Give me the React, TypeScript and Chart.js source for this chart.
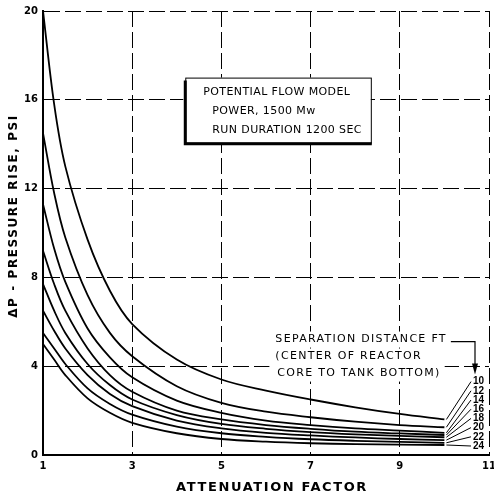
import React, { useEffect, useRef } from "react";
import { Chart, registerables } from "chart.js";
Chart.register(...registerables);

// Attenuation factor sample positions (x)
const attenuation = [1, 1.25, 1.5, 2, 2.5, 3, 4, 5, 6, 7, 8, 9, 10];
// Pressure rise (psi) for each separation distance (ft)
const sep10 = [20, 15.8, 13.0, 9.7, 7.4, 5.9, 4.3, 3.4, 2.9, 2.5, 2.15, 1.85, 1.6];
const sep12 = [14.5, 11.8, 9.8, 7.2, 5.5, 4.45, 3.1, 2.35, 1.95, 1.7, 1.5, 1.35, 1.25];
const sep14 = [11.3, 9.3, 7.8, 5.7, 4.4, 3.5, 2.45, 1.9, 1.55, 1.35, 1.2, 1.1, 1.0];
const sep16 = [9.2, 7.7, 6.5, 4.8, 3.6, 2.85, 2.0, 1.6, 1.35, 1.18, 1.05, 0.97, 0.9];
const sep18 = [7.7, 6.5, 5.5, 4.1, 3.15, 2.5, 1.8, 1.4, 1.18, 1.03, 0.93, 0.86, 0.8];
const sep20 = [6.5, 5.6, 4.8, 3.6, 2.75, 2.2, 1.55, 1.2, 1.0, 0.88, 0.79, 0.72, 0.67];
const sep22 = [5.5, 4.8, 4.1, 3.0, 2.3, 1.82, 1.28, 0.98, 0.82, 0.71, 0.64, 0.59, 0.55];
const sep24 = [5.0, 4.3, 3.6, 2.55, 1.9, 1.45, 0.98, 0.72, 0.6, 0.53, 0.49, 0.47, 0.45];

const seriesValues = [sep10, sep12, sep14, sep16, sep18, sep20, sep22, sep24];
const separationLabels = ["10", "12", "14", "16", "18", "20", "22", "24"];

const xTicks = [1, 3, 5, 7, 9, 11];
const yTicks = [0, 4, 8, 12, 16, 20];

const boxLines = ["POTENTIAL FLOW MODEL", "POWER, 1500 Mw", "RUN DURATION 1200 SEC"];
const noteLines = ["SEPARATION DISTANCE FT", "(CENTER OF REACTOR", "CORE TO TANK BOTTOM)"];
const xTitle = "ATTENUATION FACTOR";
const yTitle = "\u0394P - PRESSURE RISE, PSI";

const FONT = "'DejaVu Sans', 'Liberation Sans', sans-serif";

const decorPlugin = {
  id: "decor",
  beforeDatasetsDraw(chart: any) {
    const ctx = chart.ctx as CanvasRenderingContext2D;
    const xs = chart.scales.x;
    const ys = chart.scales.y;
    ctx.save();
    // Info box
    const bx = xs.getPixelForValue(4.19);
    const by = ys.getPixelForValue(17.0);
    const bw = xs.getPixelForValue(8.35) - bx;
    const bh = ys.getPixelForValue(14.07) - by;
    ctx.fillStyle = "#fff";
    ctx.fillRect(bx - 2, by, bw + 2, bh + 2);
    ctx.strokeStyle = "#000";
    ctx.lineWidth = 1;
    ctx.strokeRect(bx + 0.5, by + 0.5, bw, bh);
    ctx.lineWidth = 3;
    ctx.beginPath();
    ctx.moveTo(bx, by + 3);
    ctx.lineTo(bx, by + bh + 1);
    ctx.lineTo(bx + bw + 1, by + bh + 1);
    ctx.stroke();
    ctx.fillStyle = "#000";
    ctx.font = `11px ${FONT}`;
    (ctx as any).letterSpacing = "0.4px";
    ctx.textBaseline = "middle";
    ctx.textAlign = "left";
    ctx.fillText(boxLines[0], bx + 18, by + 15);
    ctx.fillText(boxLines[1], bx + 27, by + 34);
    ctx.fillText(boxLines[2], bx + 27, by + 53);

    // Note text with white backing
    (ctx as any).letterSpacing = "1.3px";
    const nx = xs.getPixelForValue(6.21);
    const ny = ys.getPixelForValue(5.2);
    const rows = [0, 17, 34];
    noteLines.forEach((t, i) => {
      const w = ctx.measureText(t).width;
      ctx.fillStyle = "#fff";
      ctx.fillRect(nx - 6, ny + rows[i] - 8, w + 12, 16);
    });
    ctx.fillStyle = "#000";
    noteLines.forEach((t, i) => {
      ctx.fillText(t, nx + (i === 2 ? 2 : 0), ny + rows[i]);
    });
    const w0 = ctx.measureText(noteLines[0]).width;
    // arrow
    const ax = chart.chartArea.right - 14;
    ctx.lineWidth = 1.2;
    ctx.beginPath();
    ctx.moveTo(nx + w0 + 4, ny + 2);
    ctx.lineTo(ax, ny + 2);
    ctx.lineTo(ax, ny + 26);
    ctx.stroke();
    ctx.beginPath();
    ctx.moveTo(ax - 3, ny + 24);
    ctx.lineTo(ax + 3, ny + 24);
    ctx.lineTo(ax, ny + 35);
    ctx.closePath();
    ctx.fill();
    ctx.restore();
  },
  afterDraw(chart: any) {
    const ctx = chart.ctx as CanvasRenderingContext2D;
    const xs = chart.scales.x;
    const ys = chart.scales.y;
    const area = chart.chartArea;
    ctx.save();
    ctx.fillStyle = "#000";
    ctx.strokeStyle = "#000";
    // series labels with leader lines
    ctx.font = `bold 10px 'Liberation Sans', ${FONT}`;
    ctx.textBaseline = "middle";
    ctx.textAlign = "left";
    const n = seriesValues.length;
    seriesValues.forEach((vals, i) => {
      const px = xs.getPixelForValue(attenuation[attenuation.length - 1]);
      const py = ys.getPixelForValue(vals[vals.length - 1]);
      const ly = area.bottom - 9 - (n - 1 - i) * 9.2;
      const lx = area.right - 16;
      ctx.lineWidth = 1;
      ctx.beginPath();
      ctx.moveTo(px + 2, py);
      ctx.lineTo(lx - 2, ly);
      ctx.stroke();
      ctx.fillText(separationLabels[i], lx, ly);
    });
    // x title
    ctx.font = `bold 13px ${FONT}`;
    (ctx as any).letterSpacing = "1.6px";
    ctx.textAlign = "center";
    ctx.fillText(xTitle, (area.left + area.right) / 2 + 6, 488);
    // y title
    ctx.translate(14, 216);
    ctx.rotate(-Math.PI / 2);
    ctx.font = `bold 12px ${FONT}`;
    (ctx as any).letterSpacing = "1.6px";
    ctx.fillText(yTitle, 0, 0);
    ctx.restore();
  },
};

export default function App() {
  const ref = useRef<HTMLCanvasElement | null>(null);
  useEffect(() => {
    if (!ref.current) return;
    const chart = new Chart(ref.current, {
      type: "line",
      data: {
        datasets: seriesValues.map((vals, i) => ({
          label: separationLabels[i],
          data: attenuation.map((x, j) => ({ x, y: vals[j] })),
          borderColor: "#000",
          borderWidth: 1.8,
          pointRadius: 0,
          tension: 0.35,
          fill: false,
        })),
      },
      options: {
        responsive: false,
        animation: false,
        layout: { padding: { top: 10, right: 5, left: 0, bottom: 0 } },
        plugins: { legend: { display: false }, tooltip: { enabled: false }, title: { display: false } },
        scales: {
          x: {
            type: "linear",
            min: 1,
            max: 11,
            afterBuildTicks: (s: any) => {
              s.ticks = xTicks.map((v) => ({ value: v }));
            },
            afterFit: (s: any) => {
              s.height = 42;
              s.paddingRight = 0;
              s.paddingLeft = 0;
            },
            grid: { color: "#000", lineWidth: 1, drawTicks: false },
            border: { display: true, color: "#000", width: 2, dash: [16, 5] },
            ticks: {
              color: "#000",
              padding: 5,
              maxRotation: 0,
              autoSkip: false,
              font: { family: FONT, size: 10, weight: "bold" },
            },
          },
          y: {
            type: "linear",
            min: 0,
            max: 20,
            afterBuildTicks: (s: any) => {
              s.ticks = yTicks.map((v) => ({ value: v }));
            },
            afterFit: (s: any) => {
              s.width = 43;
            },
            grid: { color: "#000", lineWidth: 1, drawTicks: false },
            border: { display: true, color: "#000", width: 2, dash: [16, 5] },
            ticks: {
              color: "#000",
              padding: 5,
              autoSkip: false,
              font: { family: FONT, size: 10, weight: "bold" },
            },
          },
        },
      },
      plugins: [decorPlugin],
    } as any);
    return () => chart.destroy();
  }, []);
  return (
    <div style={{ position: "absolute", left: 0, top: 0, width: 494, height: 497, background: "#fff" }}>
      <canvas ref={ref} width={494} height={497} style={{ width: 494, height: 497, display: "block" }} />
    </div>
  );
}
